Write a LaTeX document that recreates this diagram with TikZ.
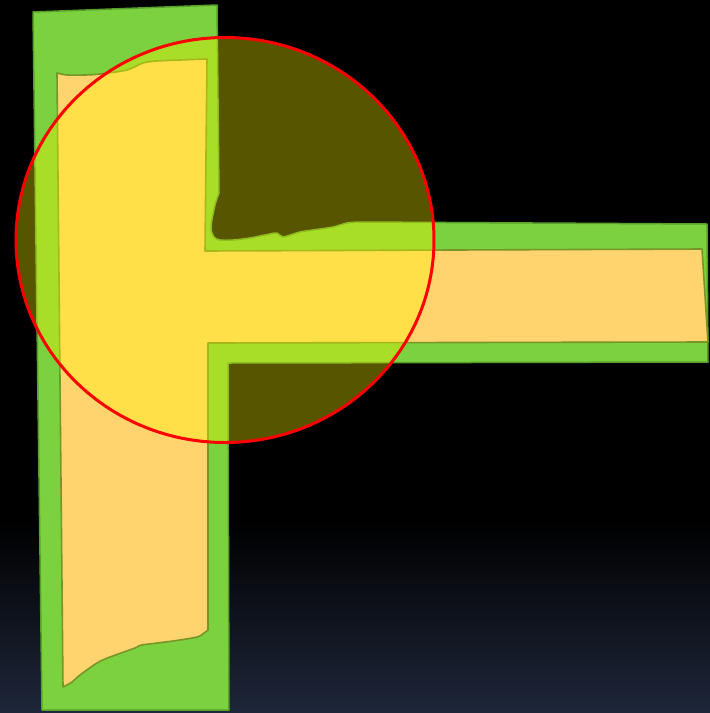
\documentclass[tikz,border=0pt]{standalone}
\usetikzlibrary{calc}
\definecolor{grn}{RGB}{123,209,62}
\definecolor{grnedge}{RGB}{88,160,44}
\definecolor{org}{RGB}{255,212,110}
\definecolor{orgedge}{RGB}{120,150,40}
\definecolor{navy}{RGB}{30,38,58}
\definecolor{yel}{RGB}{255,250,0}
\tikzset{
  greenshape/.style={fill=grn, draw=grnedge, line width=1.5pt, line join=round},
  orangeshape/.style={fill=org, draw=orgedge, line width=1.6pt, line join=round},
  lens/.style={fill=yel, fill opacity=0.34, draw=red, draw opacity=1, line width=3pt}
}
\begin{document}
\begin{tikzpicture}[x=1pt,y=-1pt]
\useasboundingbox (0,0) rectangle (710,713);
\fill[black] (0,0) rectangle (710,713);
\shade[top color=black, bottom color=navy] (0,520) rectangle (710,713);
% green T
\path[greenshape] (33,12) -- (217,5) -- (219,193)
  -- plot[smooth] coordinates {(219,193) (215,205) (211,227) (214,237) (220,240) (233,240) (250,238) (265,235) (277,233) (283,237) (300,232) (313,230) (333,227) (347,223) (360,222)}
  -- (707,224) -- (708,362) -- (228,363) -- (229,710) -- (42,710) -- cycle;
% orange inner
\path[orangeshape] (57,73)
  -- plot[smooth] coordinates {(57,73) (67,75) (85,75) (100,74) (127,70) (143,63) (157,61) (180,60) (205,59)}
  -- (207,59) -- (205,251) -- (702,249) -- (708,342) -- (208,343) -- (208,630)
  -- plot[smooth] coordinates {(208,630) (204,633) (197,637) (173,641) (142,645) (135,648) (110,657) (97,663) (80,675) (72,682) (63,687)}
  -- cycle;
% lens
\path[lens] (225,240) ellipse [x radius=209, y radius=202.5];
\end{tikzpicture}
\end{document}
